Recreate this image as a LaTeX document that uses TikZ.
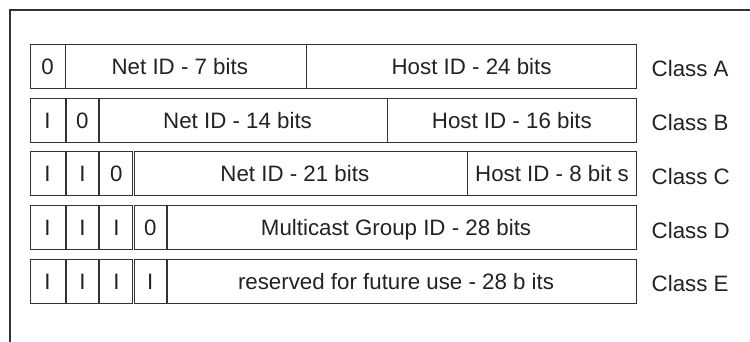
\documentclass[tikz,border=0pt]{standalone}
\usepackage{fontspec}
\setmainfont{Liberation Sans}
\definecolor{linec}{HTML}{333333}
\definecolor{txtc}{HTML}{222222}
\newcommand{\myLeftNudge}{\hspace*{-12pt}}
\begin{document}
\begin{tikzpicture}[x=1pt,y=-1pt,
  cell/.style={draw=linec, line width=1.1pt, rectangle, inner sep=0pt,
    minimum height=44pt, text height=16pt, text depth=0pt,
    font=\fontsize{22.3}{25}\selectfont, text=txtc, anchor=north west},
  classlbl/.style={inner sep=0pt, anchor=base west, text=txtc,
    font=\fontsize{22.3}{25}\selectfont},
  frame/.style={draw=linec, line width=2pt}]
\useasboundingbox (0,0) rectangle (750,342);
\draw[frame] (751,10) -- (10,10) -- (10,343);
% Class A
\node[cell, minimum width=35pt]    (A0)    at (29.5,44) {0};
\node[cell, minimum width=241.5pt] (Anet)  at (64.5,44) {\myLeftNudge Net ID - 7 bits};
\node[cell, minimum width=330pt]   (Ahost) at (306,44)  {Host ID - 24 bits};
\node[classlbl] (Alab) at (651.5,77) {Class A};
% Class B
\node[cell, minimum width=35pt]    (B1)    at (29.5,97.7) {I};
\node[cell, minimum width=32.2pt]  (B2)    at (65.8,97.7) {0};
\node[cell, minimum width=287.4pt] (Bnet)  at (99.3,97.7) {\myLeftNudge Net ID - 14 bits};
\node[cell, minimum width=249.3pt] (Bhost) at (386.7,97.7) {Host ID - 16 bits};
\node[classlbl] (Blab) at (651.5,130.5) {Class B};
% Class C
\node[cell, minimum width=35pt]    (C1)    at (29.5,151.3) {I};
\node[cell, minimum width=32.2pt]  (C2)    at (65.8,151.3) {I};
\node[cell, minimum width=33pt]    (C3)    at (99.3,151.3) {0};
\node[cell, minimum width=333.4pt] (Cnet)  at (133.6,151.3) {\myLeftNudge Net ID - 21 bits};
\node[cell, minimum width=169pt]   (Chost) at (467,151.3) {Host ID - 8 bit s};
\node[classlbl] (Clab) at (651.5,184.5) {Class C};
% Class D
\node[cell, minimum width=35pt]    (D1)    at (29.5,205) {I};
\node[cell, minimum width=32.2pt]  (D2)    at (65.8,205) {I};
\node[cell, minimum width=33pt]    (D3)    at (99.3,205) {I};
\node[cell, minimum width=32.1pt]  (D4)    at (133.6,205) {0};
\node[cell, minimum width=469pt]   (Dm)    at (167,205) {\myLeftNudge Multicast Group ID - 28 bits};
\node[classlbl] (Dlab) at (651.5,238) {Class D};
% Class E
\node[cell, minimum width=35pt]    (E1)    at (29.5,258.7) {I};
\node[cell, minimum width=32.2pt]  (E2)    at (65.8,258.7) {I};
\node[cell, minimum width=33pt]    (E3)    at (99.3,258.7) {I};
\node[cell, minimum width=32.1pt]  (E4)    at (133.6,258.7) {I};
\node[cell, minimum width=469pt]   (Er)    at (167,258.7) {\myLeftNudge reserved for future use - 28 b its};
\node[classlbl] (Elab) at (651.5,291.7) {Class E};
\end{tikzpicture}
\end{document}
